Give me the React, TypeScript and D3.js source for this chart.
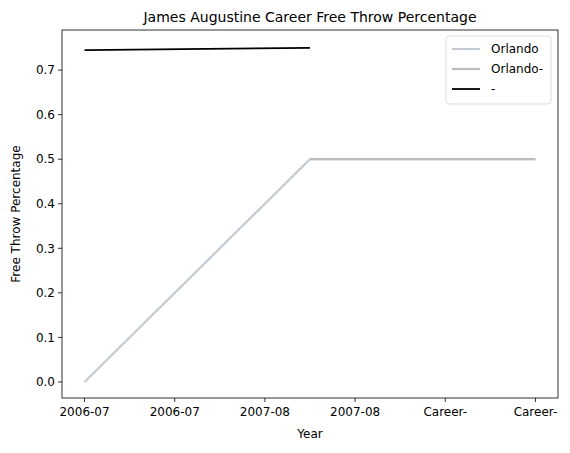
import React from "react";
import * as d3 from "d3";

const tickLabels = ["2006-07", "2006-07", "2007-08", "2007-08", "Career-", "Career-"];
const tickPos = [0, 0.4, 0.8, 1.2, 1.6, 2.0];
const yTicks = [0, 0.1, 0.2, 0.3, 0.4, 0.5, 0.6, 0.7];

const series = [
  { name: "Orlando", color: "#c3cad2", width: 2.2, pts: [[0, 0], [1, 0.5], [2, 0.5]] },
  { name: "Orlando-", color: "#bdbdbd", width: 2.2, pts: [[1, 0.5], [2, 0.5]] },
  { name: "-", color: "#000000", width: 1.8, pts: [[0, 0.745], [1, 0.75]] },
];

const W = 570, H = 453;
const L = 62, R = 558, T = 30, B = 398;

export default function App() {
  const x = d3.scaleLinear().domain([-0.1, 2.1]).range([L, R]);
  const y = d3.scaleLinear().domain([-0.036, 0.79]).range([B, T]);
  const line = d3.line<number[]>().x((d) => x(d[0])).y((d) => y(d[1]));
  const font = "DejaVu Sans, sans-serif";
  return (
    <svg width={W} height={H} style={{ position: "absolute", left: 0, top: 0 }} fontFamily={font}>
      <rect width={W} height={H} fill="#fff" />
      {series.map((s) => (
        <path key={s.name} d={line(s.pts) || ""} fill="none" stroke={s.color} strokeWidth={s.width} />
      ))}
      <rect x={L} y={T} width={R - L} height={B - T} fill="none" stroke="#000" strokeWidth={0.8} />
      {tickPos.map((t, i) => (
        <g key={i} transform={`translate(${x(t)},${B})`}>
          <line y2={4} stroke="#000" strokeWidth={0.8} />
          <text y={18} textAnchor="middle" fontSize={12}>{tickLabels[i]}</text>
        </g>
      ))}
      {yTicks.map((t) => (
        <g key={t} transform={`translate(${L},${y(t)})`}>
          <line x2={-4} stroke="#000" strokeWidth={0.8} />
          <text x={-7} dy="0.35em" textAnchor="end" fontSize={12}>{t.toFixed(1)}</text>
        </g>
      ))}
      <text x={(L + R) / 2} y={22} textAnchor="middle" fontSize={14}>James Augustine Career Free Throw Percentage</text>
      <text x={(L + R) / 2} y={438} textAnchor="middle" fontSize={12}>Year</text>
      <text transform={`translate(20,${(T + B) / 2}) rotate(-90)`} textAnchor="middle" fontSize={12}>Free Throw Percentage</text>
      <g transform="translate(446,36)">
        <rect width={105} height={68} rx={3} fill="#fff" stroke="#ddd" />
        {series.map((s, i) => (
          <g key={s.name} transform={`translate(0,${13 + i * 20})`}>
            <line x1={6} x2={34} stroke={s.color} strokeWidth={s.width} />
            <text x={45} dy="0.35em" fontSize={12}>{s.name}</text>
          </g>
        ))}
      </g>
    </svg>
  );
}
